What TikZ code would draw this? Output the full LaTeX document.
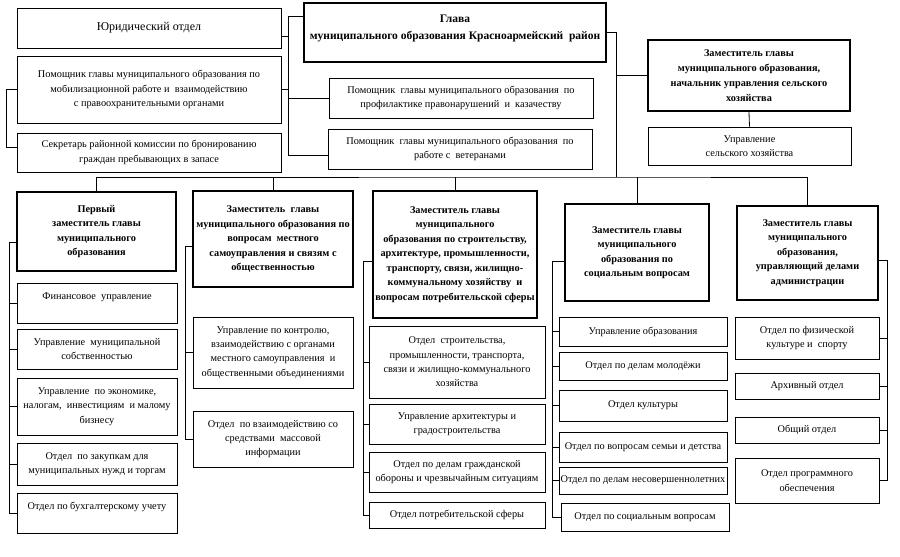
\documentclass[tikz,border=0pt]{standalone}
\usepackage{fontspec}
\setmainfont{Liberation Serif}
\begin{document}
\begin{tikzpicture}[x=1pt,y=-1pt,
  wh/.style 2 args={minimum width=#1pt,minimum height=#2pt},
  box/.style={draw=black,line width=0.8pt,inner sep=1pt,align=center,
    font=\fontsize{10.3}{14.3}\selectfont},
  bbox/.style={box,line width=2.3pt,font=\fontsize{10.3}{14.5}\selectfont\bfseries},
  link/.style={draw=black,line width=0.8pt}]
\useasboundingbox (0,0) rectangle (900,557);
% top-left group
\node[box,wh={264}{40},font=\fontsize{12}{14}\selectfont] (jur) at (149,28) {Юридический отдел};
\node[box,wh={264}{67}] (mob) at (149,89.5) {Помощник главы муниципального образования по\\ мобилизационной работе и\ \ взаимодействию\\ с правоохранительными органами};
\node[box,wh={264}{39}] (secr) at (149,152.5) {Секретарь районной комиссии по бронированию\\ граждан пребывающих в запасе};
\node[bbox,wh={302}{59},font=\fontsize{11.5}{17}\selectfont\bfseries] (glava) at (455,32.5) {Глава\\ муниципального образования Красноармейский\ \ район\\[-6pt] \mbox{}};
\node[box,wh={264}{40}] (profil) at (461,98) {Помощник\ \ главы муниципального образования\ \ по\\ профилактике правонарушений\ \ и\ \ казачеству};
\node[box,wh={264}{40}] (veter) at (460,149) {Помощник\ \ главы муниципального образования\ \ по\\ работе с\ \ ветеранами};
\node[bbox,wh={202}{71},font=\fontsize{10.3}{15}\selectfont\bfseries] (zamsel) at (749,75.5) {Заместитель главы\\ муниципального образования,\\ начальник управления сельского\\ хозяйства};
\node[box,wh={203}{38}] (uprsel) at (749.5,146) {Управление\\ сельского хозяйства};
% deputies
\node[bbox,wh={159}{79}] (d1) at (96.5,231.5) {Первый\\ заместитель главы\\ муниципального\\ образования};
\node[bbox,wh={160}{96}] (d2) at (273,239) {Заместитель\ \ главы\\ муниципального образования по\\ вопросам\ \ местного\\ самоуправления и связям с\\ общественностью};
\node[bbox,wh={164}{127}] (d3) at (455,254.5) {Заместитель главы\\ муниципального\\ образования по строительству,\\ архитектуре, промышленности,\\ транспорту, связи, жилищно-\\ коммунальному хозяйству\ \ и\\ вопросам потребительской сферы};
\node[bbox,wh={144}{97}] (d4) at (637,252.5) {Заместитель главы\\ муниципального\\ образования по\\ социальным вопросам};
\node[bbox,wh={141}{94}] (d5) at (807.5,253) {Заместитель главы\\ муниципального\\ образования,\\ управляющий делами\\ администрации};
% column 1
\node[box,wh={160}{40}] (fin) at (97,303) {Финансовое\ \ управление\\ ~};
\node[box,wh={160}{40}] (sob) at (97,349) {Управление\ \ муниципальной\\ собственностью};
\node[box,wh={160}{57}] (eco) at (97,406.5) {Управление\ \ по экономике,\\ налогам,\ \ инвестициям\ \ и малому\\ бизнесу};
\node[box,wh={160}{42}] (zak) at (97,464) {Отдел\ \ по закупкам для\\ муниципальных нужд и торгам};
\node[box,wh={160}{40}] (buh) at (97,513) {Отдел по бухгалтерскому учету\\ ~};
% column 2
\node[box,wh={160}{71}] (kontr) at (273,352.5) {Управление по контролю,\\ взаимодействию с органами\\ местного самоуправления\ \ и\\ общественными объединениями};
\node[box,wh={160}{56}] (smi) at (273,439) {Отдел\ \ по взаимодействию со\\ средствами\ \ массовой\\ информации};
% column 3
\node[box,wh={176}{72}] (stroi) at (457,362) {Отдел\ \ строительства,\\ промышленности, транспорта,\\ связи и жилищно-коммунального\\ хозяйства};
\node[box,wh={176}{40}] (arch) at (457,424) {Управление архитектуры и\\ градостроительства};
\node[box,wh={176}{40}] (go) at (457,472) {Отдел по делам гражданской\\ обороны и чрезвычайным ситуациям};
\node[box,wh={176}{26}] (potreb) at (457,515) {Отдел потребительской сферы};
% column 4
\node[box,wh={168}{29}] (obr) at (643,331.5) {Управление образования};
\node[box,wh={168}{28}] (mol) at (643,366) {Отдел по делам молодёжи};
\node[box,wh={168}{31}] (kult) at (643,405.5) {Отдел культуры};
\node[box,wh={168}{30}] (sem) at (643,447) {Отдел по вопросам семьи и детства};
\node[box,wh={168}{27}] (nes) at (643,480.5) {Отдел по делам несовершеннолетних};
\node[box,wh={168}{28}] (soc) at (645,517) {Отдел по социальным вопросам};
% column 5
\node[box,wh={144}{42}] (fiz) at (807,338) {Отдел по физической\\ культуре и\ \ спорту};
\node[box,wh={144}{26}] (arhiv) at (807,386) {Архивный отдел};
\node[box,wh={144}{26}] (obsh) at (807,430) {Общий отдел};
\node[box,wh={144}{45}] (prog) at (807,480.5) {Отдел программного\\ обеспечения};
% junction coordinates
\coordinate (ta) at (288,16);
\coordinate (tb) at (288,155);
\coordinate (lx) at (6,0);
\coordinate (bus) at (616,177);
\coordinate (c1) at (9,0);
\coordinate (c2) at (185,0);
\coordinate (c3) at (363,0);
\coordinate (c4) at (552,0);
\coordinate (c5) at (887,0);
\coordinate (jurp) at ([yshift=-8pt]jur.east);
\coordinate (secp) at ([yshift=5pt]secr.west);
\coordinate (d1p) at ([yshift=-11pt]d1.west);
\coordinate (d2p) at ([yshift=-7pt]d2.west);
\coordinate (d3p) at ([yshift=-6.5pt]d3.west);
\coordinate (d4p) at ([yshift=-8.5pt]d4.west);
\coordinate (d5p) at ([yshift=-7pt]d5.east);
% top-left connectors
\draw[link] (ta) -- (tb);
\draw[link] (ta) -- (ta -| glava.west);
\draw[link] (jurp) -- (ta |- jurp);
\draw[link] (mob.east) -- (ta |- mob.east);
\draw[link] (profil.west) -- (ta |- profil.west);
\draw[link] (tb) -- (tb -| veter.west);
\draw[link] (mob.west) -| (lx |- secp) -- (secp);
% right trunk
\draw[link] (glava.east) -| (bus);
\draw[link] (zamsel.west) -- (zamsel.west -| bus);
\draw[link] (zamsel.south) -- (uprsel.north);
% bus to deputies
\draw[link] (d1.north) |- (bus) -| (d5.north);
\draw[link] (d2.north) -- (d2.north |- bus);
\draw[link] (d3.north) -- (d3.north |- bus);
\draw[link] (d4.north) -- (d4.north |- bus);
% column 1
\draw[link] (d1p) -| (c1 |- buh.west) -- (buh.west);
\foreach \n in {fin,sob,eco,zak} \draw[link] (\n.west) -- (c1 |- \n.west);
% column 2
\draw[link] (d2p) -| (c2 |- smi.west) -- (smi.west);
\draw[link] (kontr.west) -- (c2 |- kontr.west);
% column 3
\draw[link] (d3p) -| (c3 |- potreb.west) -- (potreb.west);
\foreach \n in {stroi,arch,go} \draw[link] (\n.west) -- (c3 |- \n.west);
% column 4
\draw[link] (d4p) -| (c4 |- soc.west) -- (soc.west);
\foreach \n in {obr,mol,kult,sem,nes} \draw[link] (\n.west) -- (c4 |- \n.west);
% column 5
\draw[link] (d5p) -| (c5 |- prog.east) -- (prog.east);
\foreach \n in {fiz,arhiv,obsh} \draw[link] (\n.east) -- (c5 |- \n.east);
\end{tikzpicture}
\end{document}
